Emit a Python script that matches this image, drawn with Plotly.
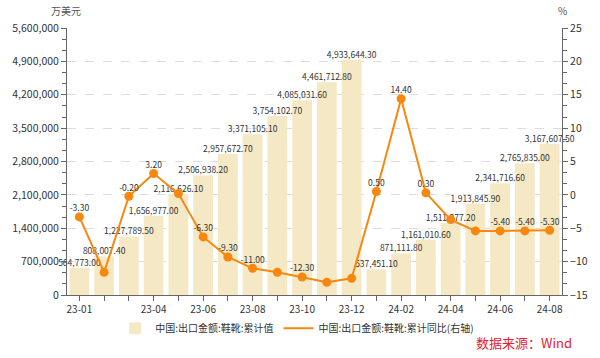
import plotly.graph_objects as go

categories = ["23-01","23-02","23-03","23-04","23-05","23-06","23-07","23-08","23-09","23-10",
              "23-11","23-12","24-01","24-02","24-03","24-04","24-05","24-06","24-07","24-08"]
cum_value = [564773.00, 808007.40, 1227789.50, 1656977.00, 2116626.10, 2506938.20, 2957672.70,
             3371105.10, 3754102.70, 4085031.60, 4461712.80, 4933644.30, 537451.10, 871111.80,
             1161010.60, 1511377.20, 1913845.90, 2341716.60, 2765835.00, 3167607.50]
cum_yoy = [-3.30, -11.6, -0.20, 3.20, 0.2, -6.30, -9.30, -11.00, -11.6, -12.30,
           -13.1, -12.5, 0.50, 14.40, 0.30, -3.7, -5.40, -5.40, -5.40, -5.30]
yoy_label_shown = [1,0,1,1,0,1,1,1,0,1,0,0,1,1,1,0,0,1,1,1]
tick_labels_shown = ["23-01","23-04","23-06","23-08","23-10","23-12","24-02","24-04","24-06","24-08"]

bar_name = "中国:出口金额:鞋靴:累计值"
line_name = "中国:出口金额:鞋靴:累计同比(右轴)"

FONT = "Noto Sans CJK SC, Noto Sans, sans-serif"
TXT = "#333333"
AX = "#666666"
ORANGE = "#F7870F"

fig = go.Figure()
fig.add_trace(go.Bar(
    x=categories, y=cum_value, name=bar_name,
    marker=dict(color="#F5E8C4", line=dict(width=0)),
))
fig.add_trace(go.Scatter(
    x=categories, y=cum_yoy, name=line_name, yaxis="y2", mode="lines+markers",
    line=dict(color=ORANGE, width=2), marker=dict(size=9, color=ORANGE),
    showlegend=False, cliponaxis=False,
))
# bar value labels (drawn on top of all bars)
fig.add_trace(go.Scatter(
    x=categories, y=cum_value, mode="text", showlegend=False, hoverinfo="skip",
    text=[f"{v:,.2f}" for v in cum_value], textposition="top center",
    textfont=dict(size=8.5, color=TXT, family=FONT), cliponaxis=False,
))
# line value labels, offset above the markers
fig.add_trace(go.Scatter(
    x=categories, y=cum_yoy, yaxis="y2", mode="markers+text", showlegend=False, hoverinfo="skip",
    marker=dict(size=4, opacity=0),
    text=[f"{v:.2f}" if s else "" for v, s in zip(cum_yoy, yoy_label_shown)],
    textposition="top center", textfont=dict(size=8.5, color=TXT, family=FONT), cliponaxis=False,
))
# legend entry for the line (line only, no marker), as in the reference
fig.add_trace(go.Scatter(
    x=[None], y=[None], name=line_name, yaxis="y2", mode="lines",
    line=dict(color=ORANGE, width=2), showlegend=True,
))

ticktext = [c if c in tick_labels_shown else "" for c in categories]
fig.update_layout(
    width=600, height=358, margin=dict(l=66, r=31, t=28, b=63),
    paper_bgcolor="white", plot_bgcolor="white",
    font=dict(family=FONT, size=10, color=TXT),
    bargap=0.2, showlegend=True,
    legend=dict(orientation="h", x=0.465, xanchor="center", y=-0.07, yanchor="top",
                font=dict(size=10, color=TXT), traceorder="normal", tracegroupgap=0,
                itemwidth=30, bgcolor="rgba(0,0,0,0)"),
    xaxis=dict(type="category", tickvals=categories, ticktext=ticktext, ticks="outside",
               ticklen=5, tickcolor=AX, showline=True, linecolor=AX, linewidth=1,
               showgrid=False, tickfont=dict(size=10, color=TXT), range=[-0.5, 19.5]),
    yaxis=dict(range=[0, 5600000], dtick=700000, tickformat=",d", ticks="outside", ticklen=5,
               tickcolor=AX, showline=True, linecolor=AX, linewidth=1,
               showgrid=True, gridcolor="#DDDDDD", griddash="dash", gridwidth=1,
               zeroline=False, tickfont=dict(size=10.5, color=TXT),
               minor=dict(dtick=700000/3, ticks="outside", ticklen=4, tickcolor=AX, showgrid=False)),
    yaxis2=dict(range=[-15, 25], dtick=5, overlaying="y", side="right", ticks="outside", ticklen=5,
                tickcolor=AX, showline=True, linecolor=AX, linewidth=1, showgrid=False,
                zeroline=False, tickfont=dict(size=10.5, color=TXT),
                minor=dict(dtick=5/3, ticks="outside", ticklen=4, tickcolor=AX, showgrid=False)),
    annotations=[
        dict(text="万美元", xref="paper", yref="paper", x=-0.002, y=1.03, xanchor="center",
             yanchor="bottom", showarrow=False, font=dict(size=10, color="#555555")),
        dict(text="%", xref="paper", yref="paper", x=1.0, y=1.03, xanchor="center",
             yanchor="bottom", showarrow=False, font=dict(size=10, color="#555555")),
        dict(text="数据来源：Wind", xref="paper", yref="paper", x=1.024, y=-0.135,
             xanchor="right", yanchor="top", showarrow=False,
             font=dict(size=13, color="#E8202A")),
    ],
)
fig.write_html("out.html", config={"displayModeBar": False},
               post_script="document.body.style.margin='0';")
